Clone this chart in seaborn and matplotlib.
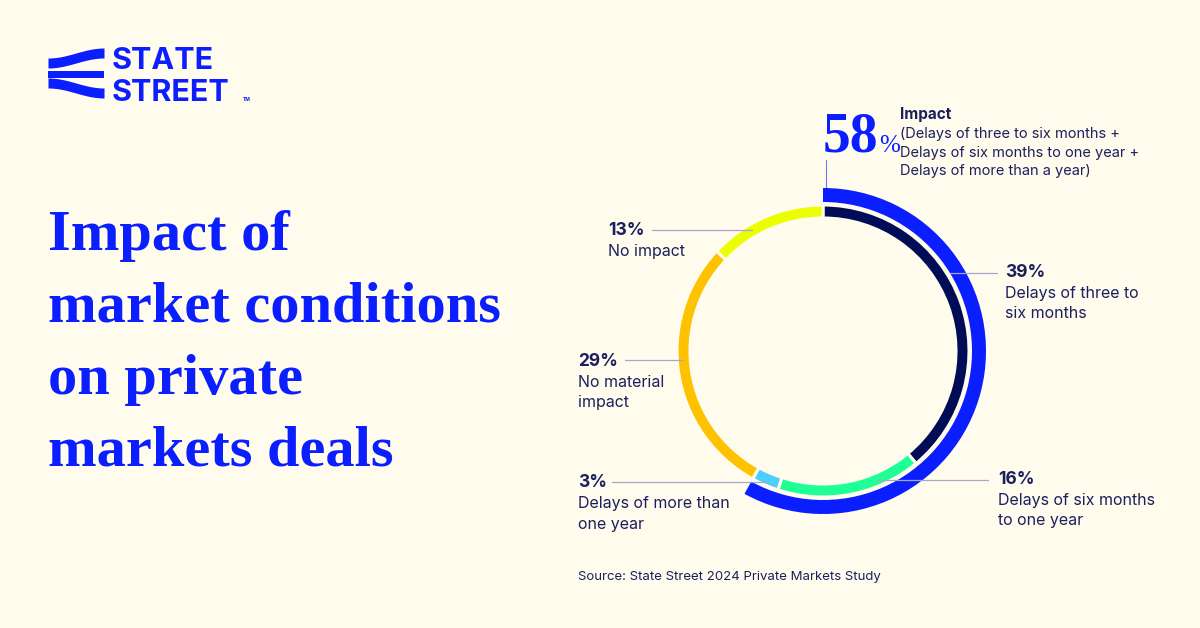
import matplotlib
matplotlib.use("Agg")
import matplotlib.pyplot as plt
import numpy as np
import seaborn as sns

sns.set_theme(style="white")
plt.rcParams["font.family"] = ["Inter", "DejaVu Sans"]

# data
segment_labels = [
    "Delays of three to\nsix months",
    "Delays of six months\nto one year",
    "Delays of more than\none year",
    "No material\nimpact",
    "No impact",
]
segment_values = [39, 16, 3, 29, 13]
segment_colors = ["#000c55", "#1eff96", "#4ccfff", "#ffc200", "#ebff00"]
impact_value = sum(segment_values[:3])  # 58
impact_note = ("(Delays of three to six months +\nDelays of six months to one year +\n"
               "Delays of more than a year)")

BG = "#fffcee"
BLUE = "#0a1eff"
NAVY = "#1b1f5e"
LEADER = "#a3a7c9"

W, H = 1200, 628
fig = plt.figure(figsize=(12, 6.28), dpi=100, facecolor=BG)

# donut axes, data units = pixels, centred on the ring
cx, cy, half = 823, 351, 200
ax = fig.add_axes([(cx - half) / W, (H - cy - half) / H, 2 * half / W, 2 * half / H])
ax.pie(segment_values, radius=146, colors=segment_colors, startangle=90, counterclock=False,
       wedgeprops=dict(width=13, edgecolor=BG, linewidth=2.2))
ax.pie([impact_value, 100 - impact_value], radius=163, colors=[BLUE, "none"],
       startangle=90, counterclock=False,
       wedgeprops=dict(width=14, edgecolor="none", linewidth=0))
ax.set_xlim(-half, half)
ax.set_ylim(-half, half)
ax.set_aspect("equal")
ax.axis("off")
ax.set_facecolor("none")

# overlay in pixel coordinates for text / logo / leaders (drawn above the ring)
over = fig.add_axes([0, 0, 1, 1])
over.set_xlim(0, W)
over.set_ylim(H, 0)
over.axis("off")
over.set_facecolor("none")
over.set_zorder(3)


def lines_at(x, y, text, step, **kw):
    # place each line on its own baseline
    for j, ln in enumerate(text.split("\n")):
        over.text(x, y + j * step, ln, va="baseline", **kw)


# logo
xs = np.linspace(48, 104, 60)
t = (xs - 48) / 56
top = 58 - 5 * np.sin(np.pi * (t - 0.5))
over.fill_between(xs, top - 5, top + 5, color=BLUE, lw=0)
over.fill_between(xs, 70.5, 78, color=BLUE, lw=0)
bot = 88 + 5 * np.sin(np.pi * (t - 0.5))
over.fill_between(xs, bot - 5, bot + 5, color=BLUE, lw=0)
over.text(112, 69, "STATE", color=BLUE, fontsize=22, fontweight="bold", va="baseline")
over.text(112, 101, "STREET", color=BLUE, fontsize=22, fontweight="bold", va="baseline")
over.text(243, 101, "TM", color=BLUE, fontsize=3.5, fontweight="bold", va="baseline")

# title
title_lines = ["Impact of", "market conditions", "on private", "markets deals"]
for i, line in enumerate(title_lines):
    over.text(48, 250 + i * 72, line, color=BLUE, fontsize=42, fontweight="bold",
              family="Liberation Serif", va="baseline")

# 58% callout
over.text(823, 152, f"{impact_value}", color=BLUE, fontsize=40, fontweight="bold",
          family="Liberation Serif", va="baseline")
over.text(879, 152, "%", color=BLUE, fontsize=18, family="Liberation Serif", va="baseline")
over.plot([826, 826], [160, 189], color=BLUE, lw=0.8, alpha=0.6)
over.text(900, 119, "Impact", color=NAVY, fontsize=11, fontweight="bold", va="baseline")
lines_at(900, 138, impact_note, 18.5, color=NAVY, fontsize=10.5)

# segment labels: (text x, baseline y, leader x0, leader x1, leader y)
label_layout = [
    (1005, 277, 950, 997, 273),
    (998, 484, 877, 988, 480),
    (578, 487, 612, 768, 482),
    (578, 366, 625, 683, 360),
    (608, 235, 652, 752, 230),
]
for lab, val, (tx, ty, lx0, lx1, ly) in zip(segment_labels, segment_values, label_layout):
    over.plot([lx0, lx1], [ly, ly], color=LEADER, lw=0.9)
    over.text(tx, ty, f"{val}%", color=NAVY, fontsize=12.5, fontweight="bold", va="baseline")
    lines_at(tx, ty + 21, lab, 20.5, color=NAVY, fontsize=11.5)

over.text(578, 580, "Source: State Street 2024 Private Markets Study", color=NAVY,
          fontsize=9.5, va="baseline")

fig.savefig("out.png", dpi=100, facecolor=BG)
